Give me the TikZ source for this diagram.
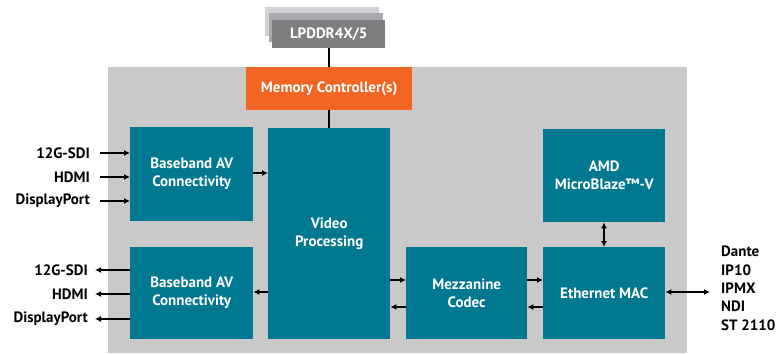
\documentclass[tikz,border=0pt]{standalone}
\usepackage{fontspec}
\setmainfont{PT Sans}
\usetikzlibrary{arrows.meta}
\definecolor{teal}{HTML}{00788F}
\definecolor{amdorange}{HTML}{F26522}
\definecolor{bggray}{HTML}{C9C9C9}
\definecolor{memA}{HTML}{D2D2D6}
\definecolor{memB}{HTML}{A9A9AD}
\definecolor{memC}{HTML}{7E7E80}
\tikzset{
  blk/.style={fill=teal, draw=none, text=white, font=\bfseries\fontsize{15}{18}\selectfont, align=center, inner sep=0pt},
  lbl/.style={font=\bfseries\fontsize{15}{18}\selectfont, text=black, inner sep=0pt},
  conn/.style={line width=1.4pt, -{Latex[length=6pt,width=6pt]}},
  conn2/.style={line width=1.4pt, {Latex[length=6pt,width=6pt]}-{Latex[length=6pt,width=6pt]}},
  plain/.style={line width=1.4pt}
}
\begin{document}
\begin{tikzpicture}[x=1pt,y=-1pt]
\useasboundingbox (0,0) rectangle (783,353);
\fill[bggray] (108,67) rectangle (687,353);
% memory stack
\fill[memA] (265,7) rectangle (379,36);
\fill[memB] (269,13) rectangle (383,42);
\node[blk, fill=memC, minimum width=113pt, minimum height=28pt, anchor=north west] (mem) at (272,20) {LPDDR4X/5};
\node[blk, fill=amdorange, minimum width=166pt, minimum height=43pt, anchor=north west] (mc) at (246,67) {Memory Controller(s)};
\node[blk, minimum width=123pt, minimum height=94pt, anchor=north west] (bav1) at (130,127) {Baseband AV\\Connectivity};
\node[blk, minimum width=123pt, minimum height=92pt, anchor=north west] (bav2) at (130,247) {Baseband AV\\Connectivity};
\node[blk, minimum width=122pt, minimum height=211pt, anchor=north west] (vp) at (268,128) {Video\\Processing};
\node[blk, minimum width=121pt, minimum height=92pt, anchor=north west] (mz) at (406,247) {Mezzanine\\Codec};
\node[blk, minimum width=122pt, minimum height=92pt, anchor=north west] (eth) at (543,247) {Ethernet MAC};
\node[blk, minimum width=122pt, minimum height=93pt, anchor=north west] (mb) at (543,129) {AMD\\MicroBlaze™-V};
\draw[plain] (mem.south -| 329,0) -- (mc.north -| 329,0);
\draw[plain] (mc.south -| 329,0) -- (vp.north -| 329,0);
% inputs
\node[lbl, anchor=east] (in1) at (90,153) {12G-SDI};
\node[lbl, anchor=east] (in2) at (90,177) {HDMI};
\node[lbl, anchor=east] (in3) at (90,201) {DisplayPort};
\draw[conn] (100,153) -- (bav1.west |- 0,153);
\draw[conn] (100,177) -- (bav1.west |- 0,177);
\draw[conn] (100,201) -- (bav1.west |- 0,201);
% outputs
\node[lbl, anchor=east] (out1) at (88,270) {12G-SDI};
\node[lbl, anchor=east] (out2) at (88,294) {HDMI};
\node[lbl, anchor=east] (out3) at (88,319) {DisplayPort};
\draw[conn] (bav2.west |- 0,270) -- (95,270);
\draw[conn] (bav2.west |- 0,294) -- (95,294);
\draw[conn] (bav2.west |- 0,319) -- (95,319);
% internal
\draw[conn] (bav1.east |- 0,173) -- (vp.west |- 0,173);
\draw[conn] (vp.west |- 0,292) -- (bav2.east |- 0,292);
\draw[conn] (vp.east |- 0,280) -- (mz.west |- 0,280);
\draw[conn] (mz.west |- 0,307) -- (vp.east |- 0,307);
\draw[conn] (mz.east |- 0,280) -- (eth.west |- 0,280);
\draw[conn] (eth.west |- 0,307) -- (mz.east |- 0,307);
\draw[conn2] (mb.south -| 604,0) -- (eth.north -| 604,0);
% external
\node[lbl, anchor=north west, align=left, font=\bfseries\fontsize{15}{18.3}\selectfont] (ext) at (721,246) {Dante\\IP10\\IPMX\\NDI\\ST 2110};
\draw[conn2] (eth.east |- 0,292) -- (710,292);
\end{tikzpicture}
\end{document}
